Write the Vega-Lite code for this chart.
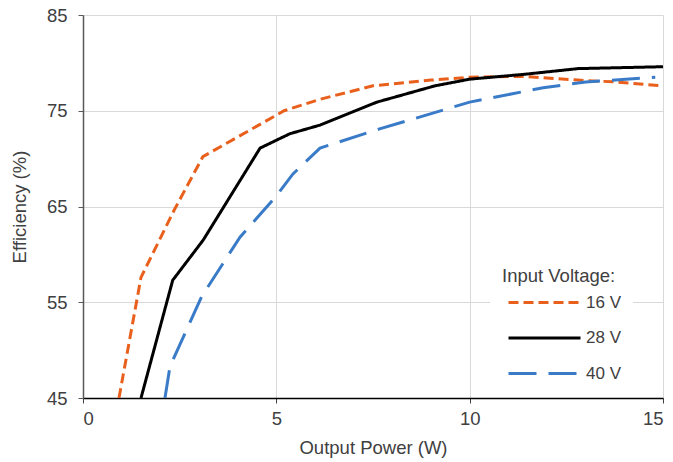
{
  "$schema": "https://vega.github.io/schema/vega-lite/v6.json",
  "width": 580,
  "height": 383,
  "autosize": {"type": "none"},
  "padding": {"left": 83, "top": 15, "right": 10, "bottom": 64},
  "config": {"view": {"stroke": null}, "font": "Liberation Sans"},
  "data": {"values": [
    {"v": "16 V", "p": 0.93, "e": 45},
    {"v": "16 V", "p": 1.5, "e": 57.6},
    {"v": "16 V", "p": 2.38, "e": 64.8},
    {"v": "16 V", "p": 3.1, "e": 70.2},
    {"v": "16 V", "p": 5.2, "e": 75.0},
    {"v": "16 V", "p": 6.13, "e": 76.2},
    {"v": "16 V", "p": 7.5, "e": 77.6},
    {"v": "16 V", "p": 9.0, "e": 78.2},
    {"v": "16 V", "p": 10.0, "e": 78.5},
    {"v": "16 V", "p": 11.3, "e": 78.6},
    {"v": "16 V", "p": 12.8, "e": 78.2},
    {"v": "16 V", "p": 13.8, "e": 78.0},
    {"v": "16 V", "p": 15.0, "e": 77.6},
    {"v": "28 V", "p": 1.5, "e": 45},
    {"v": "28 V", "p": 2.32, "e": 57.3},
    {"v": "28 V", "p": 3.11, "e": 61.5},
    {"v": "28 V", "p": 4.58, "e": 71.1},
    {"v": "28 V", "p": 5.35, "e": 72.6},
    {"v": "28 V", "p": 6.13, "e": 73.5},
    {"v": "28 V", "p": 7.6, "e": 75.9},
    {"v": "28 V", "p": 9.1, "e": 77.6},
    {"v": "28 V", "p": 10.0, "e": 78.3},
    {"v": "28 V", "p": 11.4, "e": 78.8},
    {"v": "28 V", "p": 12.8, "e": 79.4},
    {"v": "28 V", "p": 15.0, "e": 79.6},
    {"v": "40 V", "p": 2.12, "e": 45},
    {"v": "40 V", "p": 2.25, "e": 48.3},
    {"v": "40 V", "p": 3.07, "e": 55.6},
    {"v": "40 V", "p": 4.06, "e": 61.8},
    {"v": "40 V", "p": 5.0, "e": 66.1},
    {"v": "40 V", "p": 5.43, "e": 68.4},
    {"v": "40 V", "p": 6.13, "e": 71.1},
    {"v": "40 V", "p": 7.67, "e": 73.1},
    {"v": "40 V", "p": 10.0, "e": 75.9},
    {"v": "40 V", "p": 11.9, "e": 77.4},
    {"v": "40 V", "p": 13.0, "e": 78.0},
    {"v": "40 V", "p": 14.8, "e": 78.5}
  ]},
  "mark": {"type": "line", "strokeWidth": 3, "clip": true},
  "encoding": {
    "x": {
      "field": "p", "type": "quantitative",
      "scale": {"domain": [0, 15], "nice": false},
      "axis": {
        "values": [0, 5, 10, 15], "title": "Output Power (W)",
        "grid": true, "gridColor": "#D9D9D9", "gridWidth": 1,
        "domainColor": "#000000", "domainWidth": 1.5,
        "tickColor": "#404040", "tickSize": 5,
        "labelFontSize": 18.5, "labelColor": "#404040", "labelPadding": 6,
        "titleFontSize": 18.5, "titleFontWeight": "normal", "titleColor": "#404040", "titlePadding": 11
      }
    },
    "y": {
      "field": "e", "type": "quantitative",
      "scale": {"domain": [45, 85], "nice": false},
      "axis": {
        "values": [45, 55, 65, 75, 85], "title": "Efficiency (%)",
        "grid": true, "gridColor": "#D9D9D9", "gridWidth": 1,
        "domainColor": "#595959", "domainWidth": 1.5,
        "tickColor": "#595959", "tickSize": 5,
        "labelFontSize": 18.5, "labelColor": "#404040", "labelPadding": 11,
        "titleFontSize": 18.5, "titleFontWeight": "normal", "titleColor": "#404040", "titlePadding": 17
      }
    },
    "color": {
      "field": "v", "type": "nominal",
      "scale": {"domain": ["16 V", "28 V", "40 V"], "range": ["#E8601C", "#000000", "#3A7BC8"]},
      "legend": {
        "orient": "none", "legendX": 407, "legendY": 239.5,
        "fillColor": "white", "padding": 12,
        "title": "Input Voltage:", "titleFontSize": 18.5, "titleFontWeight": "normal", "titleColor": "#404040", "titlePadding": 7,
        "labelFontSize": 17, "labelColor": "#404040", "labelOffset": 31,
        "symbolType": "M-4,0H4", "symbolSize": 324, "symbolStrokeWidth": 3,
        "symbolOffset": 32, "rowPadding": 16.5
      }
    },
    "strokeDash": {
      "field": "v", "type": "nominal",
      "scale": {"domain": ["16 V", "28 V", "40 V"], "range": [[10, 5], [1, 0], [28, 12]]}
    }
  }
}
